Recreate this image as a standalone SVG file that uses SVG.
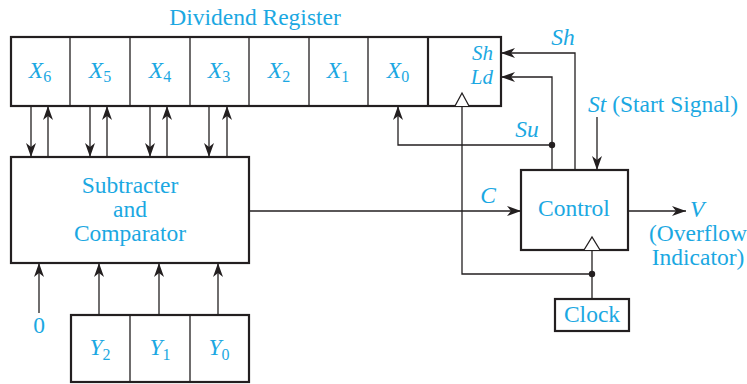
<svg xmlns="http://www.w3.org/2000/svg" width="747" height="384" viewBox="0 0 747 384">
<style>
text{font-family:"Liberation Serif","Times New Roman",serif;fill:#1ba8e2;font-size:23.5px}
.it{font-style:italic}
.sub{font-style:normal;font-size:16px}
.mid{text-anchor:middle}
.end{text-anchor:end}
.sm{font-size:21px}
.box{fill:#fff;stroke:#231f20;stroke-width:2.2}
.div{stroke:#231f20;stroke-width:1.3;fill:none}
.wire{stroke:#231f20;stroke-width:1.3;fill:none}
.arr{marker-end:url(#ah)}
.clk{fill:#fff;stroke:#231f20;stroke-width:1.3}
.dot{fill:#231f20}
</style>
<defs>
<marker id="ah" markerUnits="userSpaceOnUse" markerWidth="15" markerHeight="11" refX="14" refY="5" orient="auto" overflow="visible">
<path d="M0,0 L14,5 L0,10 L4,5 z" fill="#231f20"/>
</marker>
</defs>

<text class="mid" x="255" y="25">Dividend Register</text>

<g id="dividend-register">
<rect class="box" x="11" y="37" width="490" height="69"/>
<path class="div" d="M70,37V106M130,37V106M190,37V106M249,37V106M309,37V106M368,37V106"/>
<path stroke="#231f20" stroke-width="2.2" d="M428,37V106"/>
<text class="it mid" x="40" y="78">X<tspan class="sub" dy="4">6</tspan></text>
<text class="it mid" x="100" y="78">X<tspan class="sub" dy="4">5</tspan></text>
<text class="it mid" x="160" y="78">X<tspan class="sub" dy="4">4</tspan></text>
<text class="it mid" x="219" y="78">X<tspan class="sub" dy="4">3</tspan></text>
<text class="it mid" x="279" y="78">X<tspan class="sub" dy="4">2</tspan></text>
<text class="it mid" x="338" y="78">X<tspan class="sub" dy="4">1</tspan></text>
<text class="it mid" x="398" y="78">X<tspan class="sub" dy="4">0</tspan></text>
<text class="it end sm" x="493" y="60">Sh</text>
<text class="it end sm" x="493" y="84">Ld</text>
<path class="clk" d="M455,106 L462,93 L469,106"/>
</g>

<g id="subtracter">
<rect class="box" x="11" y="157" width="238" height="106"/>
<text class="mid" x="130" y="193">Subtracter</text>
<text class="mid" x="130" y="217">and</text>
<text class="mid" x="130" y="241">Comparator</text>
</g>

<g id="control">
<rect class="box" x="521" y="170" width="107" height="80"/>
<text class="mid" x="574" y="216">Control</text>
<path class="clk" d="M584,250 L592,237 L600,250"/>
</g>

<g id="clock">
<rect class="box" x="555" y="299" width="74" height="32"/>
<text class="mid" x="592" y="322">Clock</text>
</g>

<g id="divisor-register">
<rect class="box" x="71" y="315" width="178" height="67"/>
<path class="div" d="M130,315V382M190,315V382"/>
<text class="it mid" x="100" y="355">Y<tspan class="sub" dy="5">2</tspan></text>
<text class="it mid" x="160" y="355">Y<tspan class="sub" dy="5">1</tspan></text>
<text class="it mid" x="219" y="355">Y<tspan class="sub" dy="5">0</tspan></text>
</g>

<g id="connectors">
<path class="wire arr" d="M31,106V157"/>
<path class="wire arr" d="M90,106V157"/>
<path class="wire arr" d="M150,106V157"/>
<path class="wire arr" d="M209,106V157"/>
<path class="wire arr" d="M48,157V106"/>
<path class="wire arr" d="M107,157V106"/>
<path class="wire arr" d="M167,157V106"/>
<path class="wire arr" d="M227,157V106"/>
<path class="wire arr" d="M249,211H521"/>
<path class="wire arr" d="M628,211H686"/>
<path class="wire arr" d="M597,117V170"/>
<path class="wire arr" d="M575,170V53H501"/>
<path class="wire arr" d="M552,170V77H501"/>
<path class="wire arr" d="M552,145H398V106"/>
<circle class="dot" cx="552" cy="145" r="3.2"/>
<path class="wire" d="M592,299V250"/>
<path class="wire" d="M592,274H462V106"/>
<circle class="dot" cx="592" cy="274" r="3.2"/>
<path class="wire arr" d="M39,313V263"/>
<path class="wire arr" d="M99,315V263"/>
<path class="wire arr" d="M159,315V263"/>
<path class="wire arr" d="M218,315V263"/>
</g>

<text class="it mid" x="563" y="45">Sh</text>
<text class="it mid" x="527" y="137">Su</text>
<text class="it mid" x="488" y="203">C</text>
<text x="588" y="112"><tspan class="it">St</tspan> (Start Signal)</text>
<text class="it" x="690" y="217">V</text>
<text class="mid" x="698" y="241">(Overflow</text>
<text class="mid" x="698" y="265">Indicator)</text>
<text class="mid" x="39" y="333">0</text>
</svg>
